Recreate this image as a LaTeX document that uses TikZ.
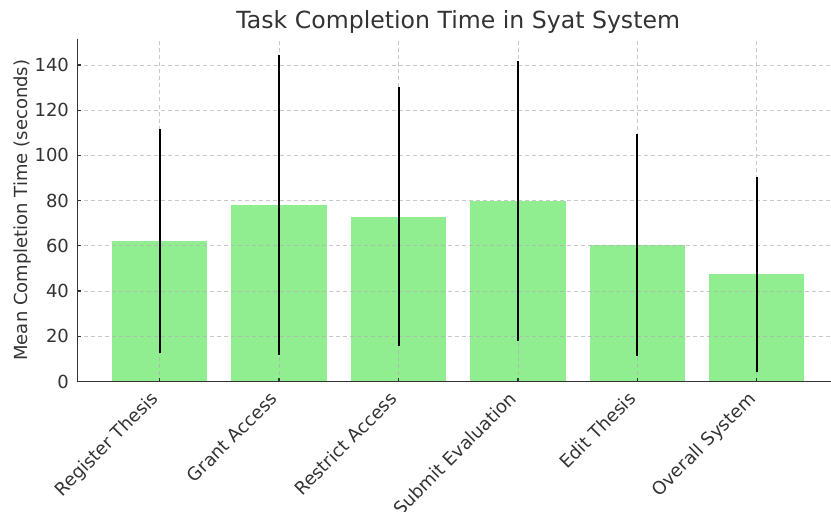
\documentclass[tikz,border=0pt]{standalone}
\usepackage{fontspec}
\setmainfont{DejaVu Sans}
\definecolor{barfill}{HTML}{90EE90}
\definecolor{spinegray}{HTML}{333333}
\definecolor{gridgray}{HTML}{B0B0B0}
\begin{document}
\begin{tikzpicture}[x=59.7pt, y=1.1305pt, line join=round,
    ticklabel/.style={font=\fontsize{9}{10.5}\selectfont, text=spinegray, inner sep=0pt},
    gridline/.style={gridgray, opacity=0.7, line width=0.4pt, dash pattern=on 2pt off 1.5pt},
    errbar/.style={black, line width=1pt},
    bar/.style={fill=barfill, draw=none},
    spine/.style={spinegray, line width=0.65pt}]
    \useasboundingbox (-0.3375,-57.28) rectangle (6.622,168.73);
    \foreach \i/\m/\s in {1/62.3/49.55, 2/78.1/66.2, 3/72.9/57.3, 4/79.7/61.9, 5/60.4/49.0, 6/47.4/43.25}
        \fill[bar] (\i-0.4,0) rectangle (\i+0.4,\m);
    \foreach \v in {20,40,...,140}
        \draw[gridline] (0.31,\v) -- (6.69,\v);
    \foreach \i in {1,...,6}
        \draw[gridline] (\i,0) -- (\i,151.6);
    \foreach \i/\m/\s in {1/62.3/49.55, 2/78.1/66.2, 3/72.9/57.3, 4/79.7/61.9, 5/60.4/49.0, 6/47.4/43.25}
        \draw[errbar] (\i,\m-\s) -- (\i,\m+\s);
    \draw[spine] (0.31,151.6) -- (0.31,0) -- (6.69,0);
    \foreach \v in {0,20,...,140}{
        \draw[spine] (0.31,\v) -- ++(1.75pt,0);
        \node[ticklabel, anchor=east] (y\v) at (0.243,\v) {\v};
    }
    \foreach \i/\t in {1/Register Thesis, 2/Grant Access, 3/Restrict Access, 4/Submit Evaluation, 5/Edit Thesis, 6/Overall System}{
        \draw[spine] (\i,0) -- ++(0,1.75pt);
        \node[ticklabel, anchor=north east, rotate=45] (x\i) at ([xshift=-5pt,yshift=-4.2pt]\i,0) {\t};
    }
    \node[ticklabel, rotate=90] (ylabel) at (-0.145,75.8) {Mean Completion Time (seconds)};
    \node[ticklabel, font=\fontsize{11.8}{13}\selectfont, anchor=base] (title) at (3.5,156.2) {Task Completion Time in Syat System};
\end{tikzpicture}
\end{document}
